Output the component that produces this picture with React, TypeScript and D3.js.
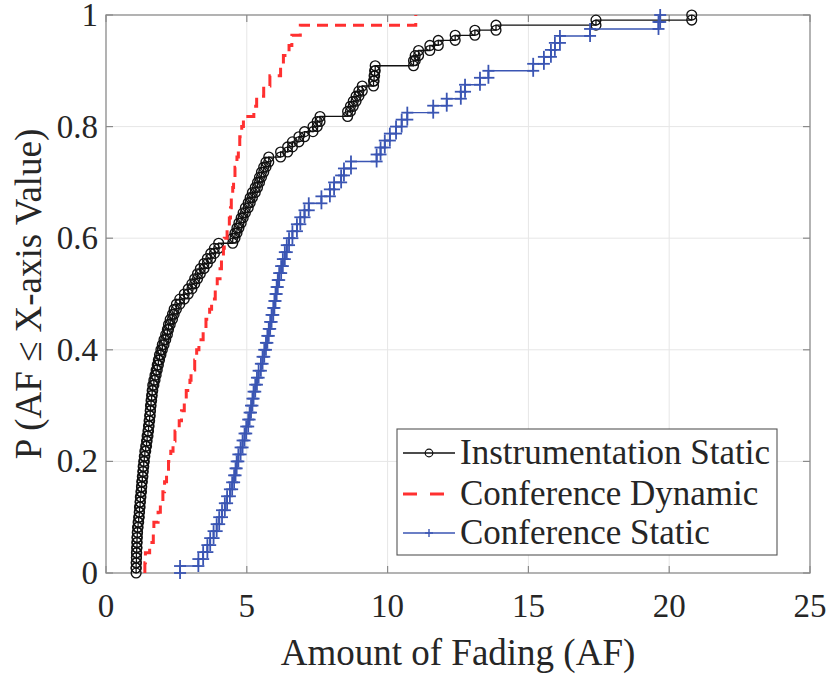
import React from "react";
import * as d3 from "d3";

// Sorted sample values (Amount of Fading)
const instrumentationStatic: number[] = [
  1.07, 1.07, 1.08, 1.08, 1.09, 1.10, 1.10, 1.11, 1.12, 1.14,
  1.16, 1.18, 1.19, 1.21, 1.22, 1.24, 1.26, 1.27, 1.29, 1.31,
  1.32, 1.34, 1.36, 1.38, 1.41, 1.44, 1.46, 1.49, 1.51, 1.53,
  1.55, 1.57, 1.58, 1.60, 1.62, 1.64, 1.66, 1.70, 1.74, 1.78,
  1.82, 1.86, 1.90, 1.95, 2.00, 2.06, 2.12, 2.18, 2.22, 2.28,
  2.36, 2.42, 2.50, 2.62, 2.78, 2.92, 3.05, 3.15, 3.25, 3.35,
  3.48, 3.60, 3.72, 3.85, 4.00, 4.50, 4.58, 4.65, 4.72, 4.80,
  4.87, 4.95, 5.05, 5.12, 5.20, 5.30, 5.38, 5.45, 5.52, 5.60,
  5.68, 5.78, 6.20, 6.45, 6.62, 6.85, 7.05, 7.35, 7.50, 7.60,
  8.58, 8.68, 8.78, 8.88, 8.98, 9.10, 9.50, 9.52, 9.54, 9.56,
  10.92, 10.98, 11.10, 11.50, 11.80, 12.40, 13.10, 13.85, 17.40, 20.80,
];

const conferenceDynamic: number[] = [
  1.38, 1.40, 1.55, 1.68, 1.70, 1.85, 1.93, 2.02, 2.08, 2.15,
  2.22, 2.30, 2.38, 2.45, 2.60, 2.68, 2.78, 2.85, 2.98, 3.02,
  3.15, 3.22, 3.30, 3.45, 3.55, 3.68, 3.75, 3.88, 3.95, 4.05,
  4.10, 4.17, 4.20, 4.30, 4.38, 4.42, 4.45, 4.50, 4.53, 4.58,
  4.65, 4.70, 4.75, 4.82, 4.88, 5.25, 5.35, 5.60, 5.82, 6.20,
  6.30, 6.50, 6.60, 6.90, 11.00,
];

const conferenceStatic: number[] = [
  2.63, 3.28, 3.45, 3.60, 3.70, 3.82, 3.93, 4.02, 4.12, 4.22,
  4.30, 4.40, 4.48, 4.55, 4.60, 4.64, 4.70, 4.78, 4.85, 4.92,
  4.98, 5.05, 5.10, 5.15, 5.20, 5.24, 5.30, 5.36, 5.42, 5.50,
  5.56, 5.62, 5.68, 5.73, 5.78, 5.83, 5.88, 5.94, 5.98, 6.02,
  6.06, 6.10, 6.15, 6.22, 6.28, 6.35, 6.42, 6.50, 6.62, 6.78,
  6.90, 7.05, 7.20, 7.65, 7.95, 8.10, 8.35, 8.45, 8.70, 9.61,
  9.75, 9.90, 10.08, 10.30, 10.50, 10.70, 11.62, 12.10, 12.60, 12.75,
  13.28, 13.58, 15.17, 15.55, 15.80, 15.94, 16.12, 17.19, 19.62, 19.68,
];

const seriesNames: string[] = ["Instrumentation Static", "Conference Dynamic", "Conference Static"];
const xTicks: number[] = [0, 5, 10, 15, 20, 25];
const yTicks: number[] = [0, 0.2, 0.4, 0.6, 0.8, 1];
const xLabel = "Amount of Fading (AF)";
const yLabel = "P (AF \u2264 X-axis Value)";

const W = 829;
const H = 677;
const FONT = "'Liberation Serif', 'Times New Roman', serif";
const TEXT = "#262626";

function stairs(vals: number[]): [number, number][] {
  const n = vals.length;
  const pts: [number, number][] = [[vals[0], 0]];
  vals.forEach((v, i) => {
    if (i > 0) pts.push([v, i / n]);
    pts.push([v, (i + 1) / n]);
  });
  return pts;
}

export default function App() {
  const x = d3.scaleLinear().domain([0, 25]).range([106, 810]);
  const y = d3.scaleLinear().domain([0, 1]).range([573, 15]);
  const line = d3
    .line<[number, number]>()
    .x((d) => x(d[0]))
    .y((d) => y(d[1]));

  const blackPts = stairs(instrumentationStatic);
  const redPts = stairs(conferenceDynamic);
  const bluePts = stairs(conferenceStatic);

  const BLACK = "#111";
  const RED = "#ff3030";
  const BLUE = "#3a55b3";

  const [x0, x1] = x.range();
  const [y0, y1] = y.range();
  const tickLen = 7;

  const plus = (cx: number, cy: number, k: string, s = 6, w = 1.8) => (
    <g key={k} stroke={BLUE} strokeWidth={w}>
      <line x1={cx - s} x2={cx + s} y1={cy} y2={cy} />
      <line x1={cx} x2={cx} y1={cy - s} y2={cy + s} />
    </g>
  );

  const legX = 397;
  const legY = 429;
  const legW = 380;
  const legH = 126;
  const rows = [453, 494, 533];

  return (
    <svg
      width={W}
      height={H}
      style={{ position: "absolute", left: 0, top: 0, background: "#fff" }}
      fontFamily={FONT}
    >
      <rect x={0} y={0} width={W} height={H} fill="#fff" />
      {/* grid */}
      <g stroke="#e6e6e6" strokeWidth={1}>
        {xTicks.slice(1, -1).map((t) => (
          <line key={"gx" + t} x1={x(t)} x2={x(t)} y1={y1} y2={y0} />
        ))}
        {yTicks.slice(1, -1).map((t) => (
          <line key={"gy" + t} x1={x0} x2={x1} y1={y(t)} y2={y(t)} />
        ))}
      </g>
      {/* box */}
      <rect x={x0} y={y1} width={x1 - x0} height={y0 - y1} fill="none" stroke="#8a8a8a" strokeWidth={1.3} />
      {/* ticks */}
      <g stroke="#8a8a8a" strokeWidth={1.2}>
        {xTicks.map((t) => (
          <g key={"tx" + t}>
            <line x1={x(t)} x2={x(t)} y1={y0} y2={y0 - tickLen} />
            <line x1={x(t)} x2={x(t)} y1={y1} y2={y1 + tickLen} />
          </g>
        ))}
        {yTicks.map((t) => (
          <g key={"ty" + t}>
            <line x1={x0} x2={x0 + tickLen} y1={y(t)} y2={y(t)} />
            <line x1={x1} x2={x1 - tickLen} y1={y(t)} y2={y(t)} />
          </g>
        ))}
      </g>
      {/* tick labels */}
      <g fill={TEXT} fontSize={33}>
        {xTicks.map((t) => (
          <text key={"lx" + t} x={x(t)} y={617} textAnchor="middle">
            {String(t)}
          </text>
        ))}
        {yTicks.map((t) => (
          <text key={"ly" + t} x={98} y={y(t) + 11} textAnchor="end">
            {String(t)}
          </text>
        ))}
      </g>
      {/* axis labels */}
      <text x={(x0 + x1) / 2} y={665} textAnchor="middle" fontSize={37} fill={TEXT}>
        {xLabel}
      </text>
      <text
        transform={`translate(41,${(y0 + y1) / 2}) rotate(-90)`}
        textAnchor="middle"
        fontSize={37}
        fill={TEXT}
      >
        {yLabel}
      </text>

      {/* Instrumentation Static */}
      <path d={line(blackPts) ?? ""} fill="none" stroke={BLACK} strokeWidth={1.3} />
      <g fill="none" stroke={BLACK} strokeWidth={1.35}>
        {blackPts.map((p, i) => (
          <circle key={"c" + i} cx={x(p[0])} cy={y(p[1])} r={4.9} />
        ))}
      </g>
      {/* Conference Dynamic */}
      <path
        d={line(redPts) ?? ""}
        fill="none"
        stroke={RED}
        strokeWidth={3}
        strokeDasharray="11 7"
      />
      {/* Conference Static */}
      <path d={line(bluePts) ?? ""} fill="none" stroke={BLUE} strokeWidth={1.4} />
      <g>{bluePts.map((p, i) => plus(x(p[0]), y(p[1]), "p" + i))}</g>

      {/* legend */}
      <rect x={legX} y={legY} width={legW} height={legH} fill="#fff" stroke="#555" strokeWidth={1.1} />
      <line x1={403} x2={455} y1={rows[0]} y2={rows[0]} stroke={BLACK} strokeWidth={1.3} />
      <circle cx={429} cy={rows[0]} r={3.8} fill="none" stroke={BLACK} strokeWidth={1.2} />
      <line
        x1={403}
        x2={455}
        y1={rows[1]}
        y2={rows[1]}
        stroke={RED}
        strokeWidth={3}
        strokeDasharray="14 13"
      />
      <line x1={403} x2={455} y1={rows[2]} y2={rows[2]} stroke={BLUE} strokeWidth={1.4} />
      {plus(429, rows[2], "lp", 4, 1.4)}
      <g fill={TEXT} fontSize={35}>
        {seriesNames.map((s, i) => (
          <text key={s} x={460} y={rows[i] + 11}>
            {s}
          </text>
        ))}
      </g>
    </svg>
  );
}
